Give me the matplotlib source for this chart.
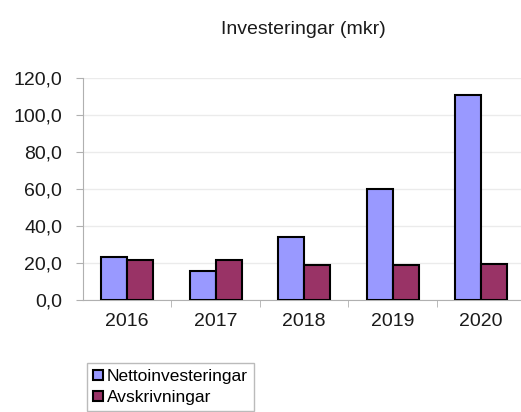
import numpy as np
import matplotlib.pyplot as plt

plt.rcParams["font.family"] = ["Liberation Sans", "DejaVu Sans"]

years = ["2016", "2017", "2018", "2019", "2020"]
netto = [23.4, 15.8, 34.2, 59.8, 110.7]
avskr = [21.6, 21.6, 18.9, 18.9, 19.4]

fig = plt.figure(figsize=(5.21, 4.12), dpi=100)
ax = fig.add_axes([83 / 521, 1 - 300 / 412, (521 - 83) / 521, (300 - 77.7) / 412])

x = np.arange(len(years))
w = 0.295
b1 = ax.bar(x - w / 2, netto, w, color="#9999ff", edgecolor="black", linewidth=1.5,
            label="Nettoinvesteringar", zorder=3)
b2 = ax.bar(x + w / 2, avskr, w, color="#993366", edgecolor="black", linewidth=1.5,
            label="Avskrivningar", zorder=3)

ax.set_ylim(0, 120)
ax.set_xlim(-0.5, 4.45)
ax.set_yticks(np.arange(0, 121, 20))
ax.set_yticklabels([f"{v:.1f}".replace(".", ",") for v in np.arange(0, 121, 20)], fontsize=14)
ax.set_xticks(x)
ax.set_xticklabels(years, fontsize=14)
ax.set_xticks(np.arange(0.5, 4.5, 1), minor=True)
ax.tick_params(axis="x", which="major", length=0, pad=9)
ax.tick_params(axis="x", which="minor", length=5, color="#b0b0b0")
ax.tick_params(axis="y", length=5, color="#b0b0b0", pad=10, labelcolor="#1a1a1a")
ax.tick_params(axis="x", labelcolor="#1a1a1a")
ax.grid(axis="y", color="#ebebeb", linewidth=1, zorder=0)
for s in ["top", "right"]:
    ax.spines[s].set_visible(False)
ax.spines["left"].set_color("#b0b0b0")
ax.spines["bottom"].set_color("#b0b0b0")

fig.text(303 / 521, 1 - 29 / 412, "Investeringar (mkr)", ha="center", va="center",
         fontsize=14, color="#1a1a1a")

fig.legend(handles=[b1, b2], loc="upper left", bbox_to_anchor=(87 / 521, 1 - 363 / 412),
           fontsize=12.5, frameon=True, fancybox=False, edgecolor="#aaaaaa",
           handlelength=0.55, handleheight=0.55, handletextpad=0.25, borderpad=0.35,
           labelspacing=0.35, borderaxespad=0)

fig.savefig("out.png", dpi=100)
